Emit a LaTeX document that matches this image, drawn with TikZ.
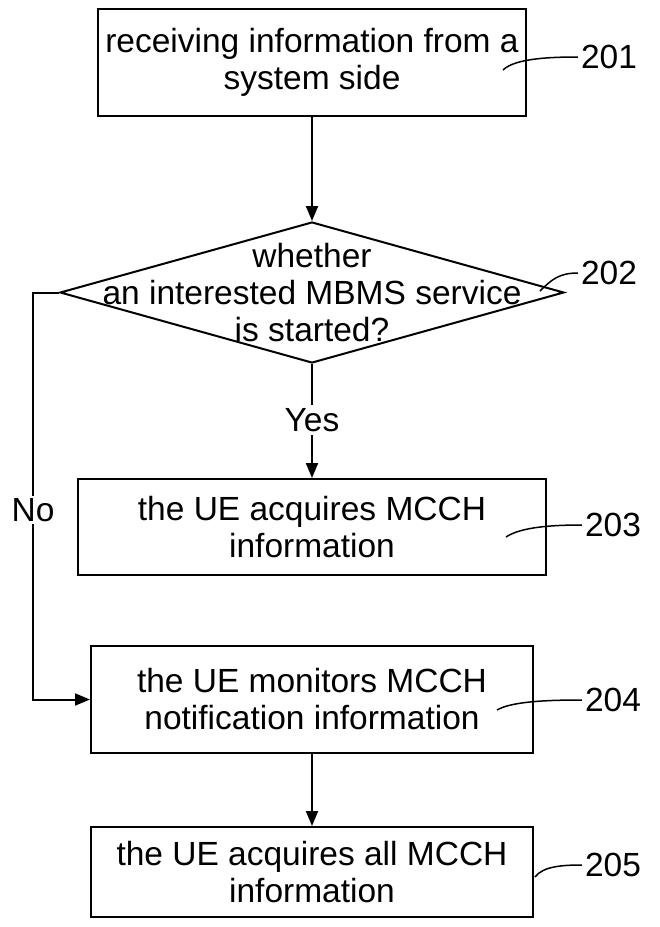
\documentclass[tikz,border=0pt]{standalone}
\usepackage{fontspec}
\setmainfont{Liberation Sans}
\usetikzlibrary{arrows.meta,shapes.geometric}

\tikzset{
  stepbox/.style={draw, line width=2pt, align=center, inner sep=0pt},
  decbox/.style={draw, diamond, line width=2pt, inner sep=0pt,
    minimum width=504pt, minimum height=141pt},
  reflabel/.style={inner sep=3pt},
  flow/.style={line width=2pt},
  leader/.style={line width=1.5pt},
}

\begin{document}
\begin{tikzpicture}[x=1pt, y=-1pt, >={Triangle[length=15pt,width=12pt]},
    every node/.style={font=\fontsize{33.5}{37}\selectfont}]
    \useasboundingbox (0,0) rectangle (660,927);

    % steps
    \node [stepbox, minimum width=428pt, minimum height=107pt] (s201) at (312,62.5)
        {receiving information from a\\system side};
    \node [decbox] (s202) at (312,292.5) {};
    \node [align=center] (q202) at (s202) {whether\\an interested MBMS service\\is started?};
    \node (yes) at (312,420) {Yes};
    \node [stepbox, minimum width=468pt, minimum height=96pt] (s203) at (312,527)
        {the UE acquires MCCH\\information};
    \node [stepbox, minimum width=442pt, minimum height=107pt] (s204) at (312,699.5)
        {the UE monitors MCCH\\notification information};
    \node [stepbox, minimum width=442pt, minimum height=90pt] (s205) at (312,872)
        {the UE acquires all MCCH\\information};
    \node [fill=white, inner sep=2pt] (no) at (33,510) {No};
    \coordinate (corner) at (33,292.5);

    % flow
    \draw[flow, ->] (s201.south) -- (s202.north);
    \draw[flow] (s202.south) -- (yes);
    \draw[flow, ->] (yes) -- (s203.north);
    \draw[flow] (s202.west) -- (corner) -- (no);
    \draw[flow, ->] (no) |- (s204.west);
    \draw[flow, ->] (s204.south) -- (s205.north);

    % reference numbers
    \node [reflabel] (n201) at (609,57) {201};
    \node [reflabel] (n202) at (609,273) {202};
    \node [reflabel] (n203) at (613,525) {203};
    \node [reflabel] (n204) at (613,700) {204};
    \node [reflabel] (n205) at (613,865) {205};

    \coordinate (t201) at (503,70);
    \coordinate (t202) at (540,291);
    \coordinate (t203) at (506,537);
    \coordinate (t204) at (497,710);
    \coordinate (t205) at (535,877);

    \draw[leader] (t201) .. controls +(12,-12) and +(-25,0) .. (n201.west);
    \draw[leader] (t202) .. controls +(12,-12) and +(-18,0) .. (n202.west);
    \draw[leader] (t203) .. controls +(15,-10) and +(-30,0) .. (n203.west);
    \draw[leader] (t204) .. controls +(15,-9) and +(-30,0) .. (n204.west);
    \draw[leader] (t205) .. controls +(8,-11) and +(-18,0) .. (n205.west);
\end{tikzpicture}
\end{document}
